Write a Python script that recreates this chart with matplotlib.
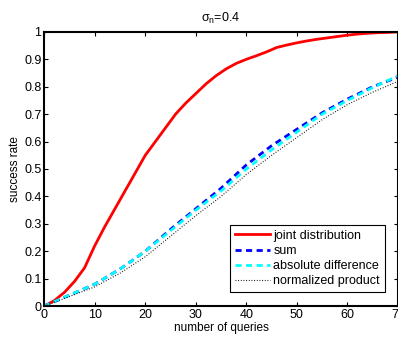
import numpy as np
import matplotlib
matplotlib.use('Agg')
import matplotlib.pyplot as plt

plt.rcParams['font.family'] = ['Liberation Sans', 'DejaVu Sans']
plt.rcParams['font.size'] = 9
plt.rcParams['mathtext.fontset'] = 'custom'
plt.rcParams['mathtext.rm'] = 'Liberation Sans'
plt.rcParams['mathtext.it'] = 'Liberation Sans'

# success rate vs number of queries
q_joint = np.arange(0, 72, 2)
joint = [0.0, 0.02, 0.05, 0.09, 0.14, 0.22, 0.29, 0.355, 0.42, 0.485,
         0.55, 0.60, 0.65, 0.70, 0.74, 0.775, 0.81, 0.84, 0.865, 0.885,
         0.90, 0.913, 0.927, 0.943, 0.952, 0.96, 0.967, 0.973, 0.978, 0.983,
         0.988, 0.992, 0.995, 0.997, 0.998, 1.0]

q = np.arange(0, 75, 5)
sum_rate = [0.0, 0.04, 0.08, 0.135, 0.20, 0.28, 0.355, 0.43, 0.515, 0.585,
            0.645, 0.705, 0.755, 0.80, 0.835]
absdiff = [0.0, 0.04, 0.08, 0.135, 0.20, 0.275, 0.35, 0.42, 0.50, 0.57,
           0.635, 0.70, 0.75, 0.797, 0.84]
normprod = [0.0, 0.035, 0.07, 0.12, 0.18, 0.255, 0.33, 0.40, 0.48, 0.55,
            0.615, 0.68, 0.735, 0.78, 0.82]

fig = plt.figure(figsize=(3.98, 3.39), dpi=100)
ax = fig.add_axes([0.111, 0.097, 0.889, 0.809])

ax.plot(q_joint, joint, color='red', lw=2, label='joint distribution')
ax.plot(q, sum_rate, color='blue', lw=2, ls=(0, (2.2, 1.6)), label='sum')
ax.plot(q, absdiff, color='cyan', lw=2, ls=(0, (2.2, 1.6)), label='absolute difference')
ax.plot(q, normprod, color='black', lw=0.8, ls=(0, (0.8, 1.6)), label='normalized product')

ax.set_xlim(0, 70)
ax.set_ylim(0, 1)
ax.set_xticks(range(0, 80, 10))
ax.set_yticks(np.arange(0, 1.01, 0.1))
ax.set_yticklabels(['0', '0.1', '0.2', '0.3', '0.4', '0.5', '0.6', '0.7', '0.8', '0.9', '1'])
ax.tick_params(direction='in', top=True, right=True, length=3, width=0.8, pad=2)
for s in ax.spines.values():
    s.set_linewidth(1.5)

ax.set_xlabel('number of queries', fontsize=8.5, labelpad=1)
ax.set_ylabel('success rate', fontsize=8.5, labelpad=2)
ax.set_title(r'$\sigma_n$=0.4', fontsize=9, pad=7)

leg = ax.legend(loc='lower right', bbox_to_anchor=(0.963, 0.051), fancybox=False,
                edgecolor='black', framealpha=1, borderpad=0.4, labelspacing=0.25,
                handlelength=2.8, handletextpad=0.25, borderaxespad=0, fontsize=9)
leg.get_frame().set_linewidth(0.8)

fig.savefig('out.png', dpi=100)
